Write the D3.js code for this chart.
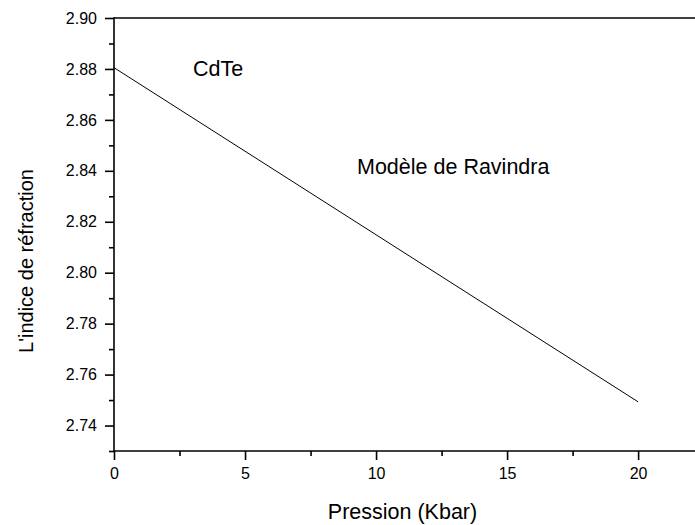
<!DOCTYPE html>
<html>
<head>
<meta charset="utf-8">
<script src="https://cdn.jsdelivr.net/npm/d3@7"></script>
<style>
  html, body { margin: 0; padding: 0; background: #fff; }
  svg { display: block; font-family: "Liberation Sans", Arial, sans-serif; }
</style>
</head>
<body>
<svg id="chart" width="695" height="525"></svg>
<script>
// Refractive index of CdTe versus pressure (Ravindra model)
const pressure = [0, 5, 10, 15, 20];
const refrIndex = [2.8805, 2.8477, 2.8149, 2.7821, 2.7493];
const xTickValues = [0, 5, 10, 15, 20];
const yTickValues = [2.74, 2.76, 2.78, 2.80, 2.82, 2.84, 2.86, 2.88, 2.90];

const svg = d3.select("#chart");
const plotLeft = 114, plotTop = 18, plotBottom = 451, plotRight = 701;

const x = d3.scaleLinear().domain([0, 22.4]).range([plotLeft, plotRight]);
const y = d3.scaleLinear().domain([2.73, 2.90]).range([plotBottom, plotTop]);

const axisW = 1.6;

// minor ticks
const xMinor = d3.range(2.5, 22.4, 5);
const yMinor = d3.range(2.73, 2.9, 0.02);

const gx = svg.append("g").attr("transform", `translate(0,${plotBottom})`);
gx.call(d3.axisBottom(x).tickValues(xMinor).tickSize(5).tickFormat(""));
const gx2 = svg.append("g").attr("transform", `translate(0,${plotBottom})`);
gx2.call(d3.axisBottom(x).tickValues(xTickValues).tickSize(9).tickPadding(8).tickFormat(d3.format("d")));

const gy = svg.append("g").attr("transform", `translate(${plotLeft},0)`);
gy.call(d3.axisLeft(y).tickValues(yMinor).tickSize(5).tickFormat(""));
const gy2 = svg.append("g").attr("transform", `translate(${plotLeft},0)`);
gy2.call(d3.axisLeft(y).tickValues(yTickValues).tickSize(9).tickPadding(8).tickFormat(d3.format(".2f")));

[gx, gx2, gy, gy2].forEach(g => {
  g.select(".domain").remove();
  g.selectAll(".tick line").attr("stroke-width", axisW);
});

svg.selectAll(".tick text").attr("font-size", 16).attr("fill", "#000")
  .attr("font-family", "Liberation Sans, Arial, sans-serif");

// frame lines
svg.append("line").attr("x1", plotLeft).attr("x2", 695).attr("y1", plotBottom).attr("y2", plotBottom)
  .attr("stroke", "#000").attr("stroke-width", axisW);
svg.append("line").attr("x1", plotLeft).attr("x2", 695).attr("y1", plotTop).attr("y2", plotTop)
  .attr("stroke", "#000").attr("stroke-width", axisW);
svg.append("line").attr("x1", plotLeft).attr("x2", plotLeft)
  .attr("y1", plotTop - axisW / 2).attr("y2", plotBottom + axisW / 2)
  .attr("stroke", "#000").attr("stroke-width", axisW);

// curve
const line = d3.line().x((d, i) => x(pressure[i])).y(d => y(d));
svg.append("path").datum(refrIndex).attr("d", line)
  .attr("fill", "none").attr("stroke", "#000").attr("stroke-width", 1);

// annotations
svg.append("text").attr("x", 193).attr("y", 76).attr("font-size", 21.5).text("CdTe");
svg.append("text").attr("x", 357).attr("y", 174).attr("font-size", 21.5).text("Modèle de Ravindra");

// axis titles
svg.append("text").attr("x", 402.5).attr("y", 519).attr("text-anchor", "middle")
  .attr("font-size", 21.5).text("Pression (Kbar)");
svg.append("text").attr("transform", "translate(33,261) rotate(-90)").attr("text-anchor", "middle")
  .attr("font-size", 20).text("L'indice de réfraction");
</script>
</body>
</html>
